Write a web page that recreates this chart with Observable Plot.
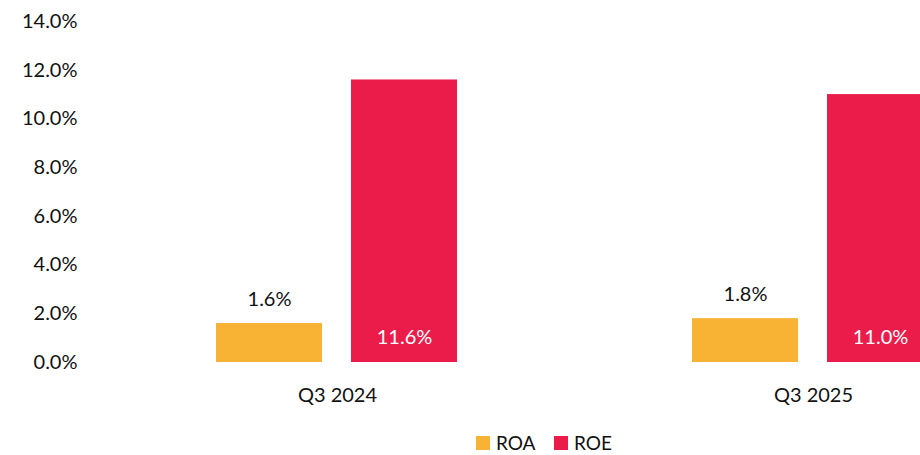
<!DOCTYPE html>
<html><head><meta charset="utf-8">
<script src="https://cdn.jsdelivr.net/npm/d3@7"></script>
<script src="https://cdn.jsdelivr.net/npm/@observablehq/plot@0.6"></script>
<style>
html,body{margin:0;padding:0;background:#fff;overflow:hidden;width:920px;height:455px;position:relative;}
#chart{position:absolute;left:0;top:0;width:1051px;}
#chart svg{max-width:none !important;}
.lg{position:absolute;top:432px;height:22px;line-height:22px;display:flex;align-items:center;font-family:Lato,sans-serif;font-size:19px;color:#111;white-space:nowrap;}
.sw{width:14px;height:14px;margin-right:6px;display:inline-block;}
</style></head>
<body>
<div id="chart"></div>
<script>
const periods = ["Q3 2024", "Q3 2025"];
const metrics = ["ROA", "ROE"];
const roa = [1.6, 1.8];
const roe = [11.6, 11.0];
const yTicks = [0, 2, 4, 6, 8, 10, 12, 14];
const colors = ["#F8B334", "#EB1C4A"];

const data = periods.flatMap((p, i) => [
  {period: p, metric: "ROA", value: roa[i]},
  {period: p, metric: "ROE", value: roe[i]}
]);
const fmt = d => d.toFixed(1) + "%";

const plot = Plot.plot({
  width: 1051, height: 425,
  marginLeft: 98, marginRight: 0, marginTop: 21, marginBottom: 63,
  style: {fontFamily: "Lato, sans-serif", fontSize: "20px", color: "#111", background: "white", overflow: "visible", maxWidth: "none"},
  fx: {domain: periods, padding: 0, label: null, tickSize: 0, tickPadding: 25, axis: "bottom"},
  x: {domain: metrics, paddingInner: 0.2132, paddingOuter: 0.8584, axis: null},
  y: {domain: [0, 14], ticks: yTicks, tickFormat: fmt, tickSize: 0, tickPadding: 22, label: null},
  color: {domain: metrics, range: colors},
  marks: [
    Plot.barY(data, {fx: "period", x: "metric", y: "value", fill: "metric"}),
    Plot.text(data.filter(d => d.metric === "ROA"), {fx: "period", x: "metric", y: "value", text: d => fmt(d.value), dy: -24, fill: "#111"}),
    Plot.text(data.filter(d => d.metric === "ROE"), {fx: "period", x: "metric", y: () => 0, text: d => fmt(d.value), dy: -24.5, fill: "white"})
  ]
});
plot.style.maxWidth = "none";
document.getElementById("chart").appendChild(plot);

const legendLeft = [476, 554];
metrics.forEach((m, i) => {
  const div = document.createElement("div");
  div.className = "lg";
  div.style.left = legendLeft[i] + "px";
  const sw = document.createElement("span");
  sw.className = "sw";
  sw.style.background = colors[i];
  div.appendChild(sw);
  div.appendChild(document.createTextNode(m));
  document.body.appendChild(div);
});
</script>
</body></html>
